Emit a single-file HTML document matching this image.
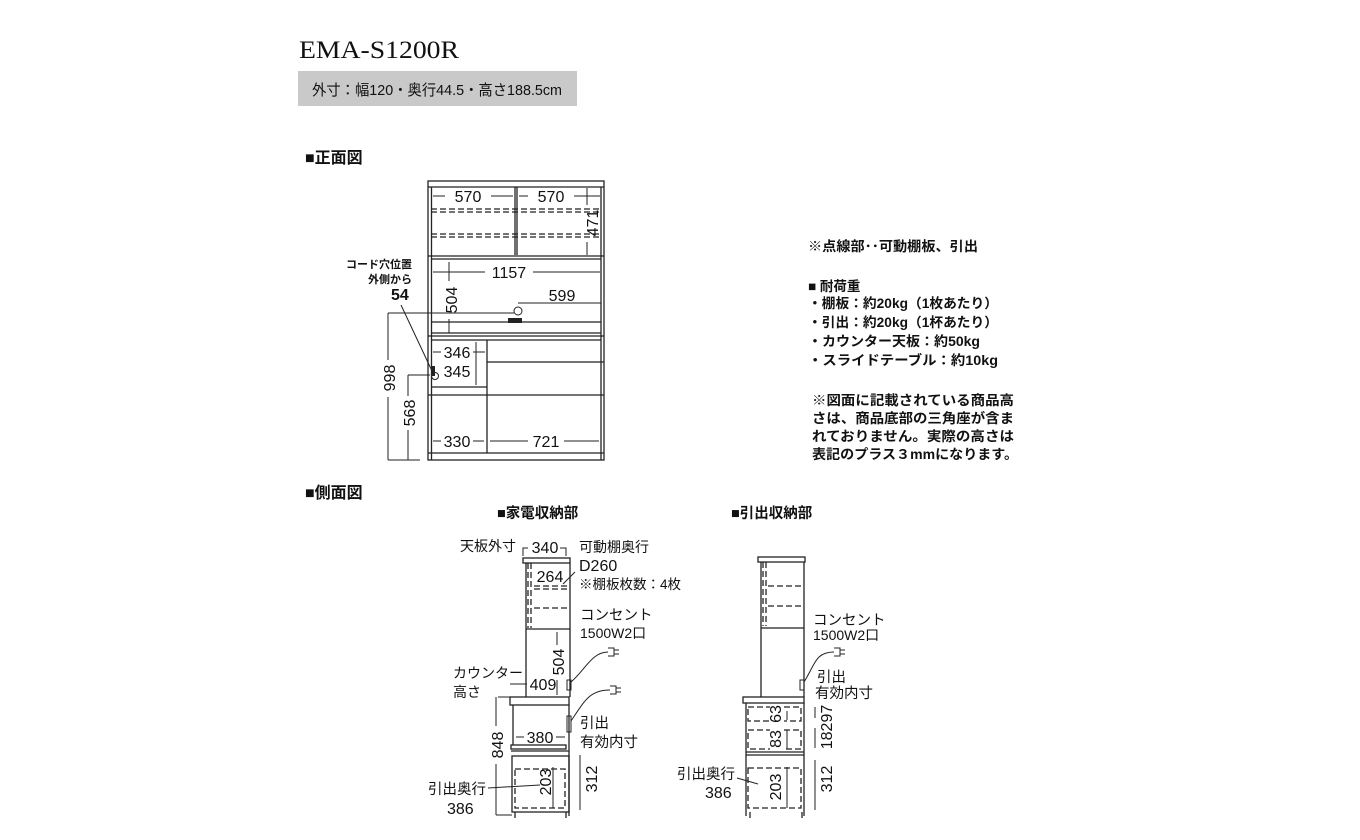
<!DOCTYPE html><html><head><meta charset="utf-8"><style>
html,body{margin:0;padding:0;background:#fff;width:1360px;height:840px;overflow:hidden}
svg{display:block}
text{font-family:"Liberation Sans","Noto Sans CJK JP",sans-serif;fill:#111}
.n{font-size:16px;text-anchor:middle}
.s{stroke:#222;stroke-width:1.3;fill:none}
.d{stroke:#222;stroke-width:1.3;fill:none;stroke-dasharray:6 3}
.t{stroke:#222;stroke-width:1;fill:none}
</style></head><body>
<svg width="1360" height="840" viewBox="0 0 1360 840">
<text x="299" y="58" textLength="160" lengthAdjust="spacingAndGlyphs" style="font-family:'Liberation Serif',serif;font-size:25px">EMA-S1200R</text>
<rect x="298" y="71" width="279" height="35" fill="#c9c9c9"/>
<text x="312" y="95" font-size="15" textLength="250" lengthAdjust="spacingAndGlyphs">外寸：幅120・奥行44.5・高さ188.5cm</text>
<text x="305" y="163" font-size="16" font-weight="bold">■正面図</text>
<text x="305" y="498" font-size="16" font-weight="bold">■側面図</text>

<!-- front view -->
<g>
<rect class="s" x="428" y="181" width="176" height="279"/>
<line class="s" x1="431.5" y1="187" x2="431.5" y2="460"/><line class="s" x1="601" y1="187" x2="601" y2="460"/>
<line class="s" x1="428" y1="187" x2="604" y2="187"/>
<line class="s" x1="515" y1="187" x2="515" y2="255"/><line class="s" x1="517" y1="187" x2="517" y2="255"/>
<line class="d" x1="431" y1="209" x2="601" y2="209"/><line class="d" x1="431" y1="212" x2="601" y2="212"/>
<line class="d" x1="431" y1="234" x2="601" y2="234"/><line class="d" x1="431" y1="237" x2="601" y2="237"/>
<line class="s" x1="428" y1="256" x2="604" y2="256"/><line class="s" x1="431" y1="259" x2="601" y2="259"/>
<line class="s" x1="431" y1="322" x2="601" y2="322"/><line class="s" x1="431" y1="333" x2="601" y2="333"/>
<line class="s" x1="428" y1="336" x2="604" y2="336"/><line class="s" x1="431" y1="340" x2="601" y2="340"/>
<line class="s" x1="487" y1="340" x2="487" y2="453"/>
<line class="s" x1="431" y1="387" x2="487" y2="387"/><line class="s" x1="428" y1="395" x2="604" y2="395"/>
<line class="s" x1="487" y1="362" x2="604" y2="362"/>
<line class="s" x1="428" y1="453" x2="604" y2="453"/>
<line class="t" x1="433" y1="196" x2="445" y2="196"/><line class="t" x1="491" y1="196" x2="513" y2="196"/>
<text x="468" y="202" class="n">570</text>
<line class="t" x1="519" y1="196" x2="528" y2="196"/><line class="t" x1="574" y1="196" x2="600" y2="196"/>
<text x="551" y="202" class="n">570</text>
<line class="t" x1="587" y1="188" x2="587" y2="205"/><line class="t" x1="587" y1="242" x2="587" y2="255"/>
<text transform="translate(598,223) rotate(-90)" class="n">471</text>
<line class="t" x1="433" y1="272" x2="485" y2="272"/><line class="t" x1="533" y1="272" x2="600" y2="272"/>
<text x="509" y="278" class="n">1157</text>
<line class="t" x1="449" y1="262" x2="449" y2="281"/><line class="t" x1="449" y1="319" x2="449" y2="333"/>
<text transform="translate(457,300) rotate(-90)" class="n">504</text>
<text x="562" y="301" class="n">599</text>
<line class="t" x1="518" y1="303" x2="601" y2="303"/>
<circle class="t" cx="518" cy="311" r="4"/>
<rect x="508" y="318" width="14" height="5" fill="#222"/>
<line class="t" x1="388" y1="313" x2="514" y2="313"/>
<line class="t" x1="388" y1="313" x2="388" y2="360"/><line class="t" x1="388" y1="397" x2="388" y2="460"/>
<text transform="translate(395,378) rotate(-90)" class="n">998</text>
<line class="t" x1="408" y1="375" x2="430" y2="375"/>
<line class="t" x1="408" y1="375" x2="408" y2="396"/><line class="t" x1="408" y1="430" x2="408" y2="460"/>
<text transform="translate(415,413) rotate(-90)" class="n">568</text>
<line class="t" x1="388" y1="460" x2="420" y2="460"/>
<text x="346" y="268" font-size="11" font-weight="bold">コード穴位置</text>
<text x="368" y="283" font-size="11" font-weight="bold">外側から</text>
<text x="391" y="300" font-size="16" font-weight="bold">54</text>
<line class="t" x1="401" y1="305" x2="432" y2="371"/>
<rect x="431" y="366" width="4" height="10" fill="#222"/><circle class="t" cx="435" cy="376" r="3.5"/>
<line class="t" x1="433" y1="352" x2="441" y2="352"/><line class="t" x1="473" y1="352" x2="485" y2="352"/>
<text x="457" y="358" class="n">346</text>
<text x="457" y="377" class="n">345</text>
<line class="t" x1="476" y1="342" x2="476" y2="385"/>
<line class="t" x1="433" y1="441" x2="441" y2="441"/><line class="t" x1="473" y1="441" x2="484" y2="441"/>
<text x="457" y="447" class="n">330</text>
<line class="t" x1="490" y1="441" x2="528" y2="441"/><line class="t" x1="564" y1="441" x2="599" y2="441"/>
<text x="546" y="447" class="n">721</text>
</g>

<!-- notes -->
<g font-size="13.5" font-weight="bold">
<text x="808" y="251" textLength="170" lengthAdjust="spacingAndGlyphs">※点線部･･可動棚板、引出</text>
<text x="808" y="291">■ 耐荷重</text>
<text x="808" y="308" textLength="190" lengthAdjust="spacingAndGlyphs">・棚板：約20kg（1枚あたり）</text>
<text x="808" y="327" textLength="190" lengthAdjust="spacingAndGlyphs">・引出：約20kg（1杯あたり）</text>
<text x="808" y="346" textLength="172" lengthAdjust="spacingAndGlyphs">・カウンター天板：約50kg</text>
<text x="808" y="365" textLength="190" lengthAdjust="spacingAndGlyphs">・スライドテーブル：約10kg</text>
<text x="812" y="405" textLength="202" lengthAdjust="spacingAndGlyphs">※図面に記載されている商品高</text>
<text x="812" y="423" textLength="202" lengthAdjust="spacingAndGlyphs">さは、商品底部の三角座が含ま</text>
<text x="812" y="441" textLength="202" lengthAdjust="spacingAndGlyphs">れておりません。実際の高さは</text>
<text x="812" y="459" textLength="206" lengthAdjust="spacingAndGlyphs">表記のプラス３mmになります。</text>
</g>

<!-- side 1 -->
<g>
<text x="497" y="518" font-size="14.5" font-weight="bold">■家電収納部</text>
<text x="460" y="551" font-size="14">天板外寸</text>
<path class="t" d="M523 556 V548 H528 M560 548 H566 V556"/>
<text x="545" y="553" class="n">340</text>
<text x="579" y="552" font-size="14">可動棚奥行</text>
<text x="579" y="571" font-size="16">D260</text>
<text x="579" y="589" font-size="13.5">※棚板枚数：4枚</text>
<rect class="s" x="523" y="558" width="47" height="5"/>
<line class="s" x1="526" y1="563" x2="526" y2="697"/><line class="s" x1="570" y1="563" x2="570" y2="697"/>
<line class="d" x1="528" y1="563" x2="528" y2="628"/><line class="d" x1="531" y1="563" x2="531" y2="628"/>
<line class="s" x1="526" y1="629" x2="570" y2="629"/>
<line class="d" x1="534" y1="586" x2="569" y2="586"/><line class="d" x1="534" y1="589" x2="569" y2="589"/>
<line class="d" x1="534" y1="608" x2="569" y2="608"/>
<text x="550" y="582" class="n">264</text>
<line class="t" x1="563" y1="584" x2="575" y2="572"/>
<text x="580" y="620" font-size="14.5">コンセント</text>
<text x="580" y="638" font-size="14">1500W2口</text>
<line class="t" x1="557" y1="632" x2="557" y2="645"/><line class="t" x1="557" y1="680" x2="557" y2="695"/>
<text transform="translate(564,662) rotate(-90)" class="n">504</text>
<text x="453" y="678" font-size="14">カウンター</text>
<text x="453" y="697" font-size="14">高さ</text>
<line class="t" x1="510" y1="684" x2="527" y2="684"/>
<text x="543" y="690" class="n">409</text>
<rect class="t" x="567" y="680" width="4" height="10"/>
<path class="t" d="M571 682 C585 670,592 652,608 652"/><path class="t" d="M608 648 h6 v8 h-6 M614 650 h5 M614 654 h5"/>
<path class="t" d="M571 721 C585 700,590 690,610 690"/><path class="t" d="M610 686 h6 v8 h-6 M616 688 h5 M616 692 h5"/>
<rect class="s" x="510" y="697" width="59" height="8"/>
<line class="s" x1="513" y1="705" x2="513" y2="745"/><line class="s" x1="569" y1="705" x2="569" y2="816"/>
<rect class="t" x="567" y="716" width="4" height="16"/>
<text x="580" y="728" font-size="14.5">引出</text>
<text x="580" y="747" font-size="14.5">有効内寸</text>
<line class="t" x1="516" y1="737" x2="524" y2="737"/><line class="t" x1="556" y1="737" x2="565" y2="737"/>
<text x="540" y="743" class="n">380</text>
<rect class="s" x="511" y="745" width="55" height="4"/>
<line class="s" x1="511" y1="751" x2="569" y2="751"/>
<rect class="s" x="512" y="756" width="57" height="56"/>
<rect class="d" x="515" y="769" width="50" height="39"/>
<line class="t" x1="553" y1="767" x2="553" y2="808"/>
<text transform="translate(551,782) rotate(-90)" class="n">203</text>
<line class="t" x1="580" y1="755" x2="580" y2="810"/>
<text transform="translate(597,779) rotate(-90)" class="n">312</text>
<line class="t" x1="498" y1="697" x2="510" y2="697"/>
<line class="t" x1="496" y1="697" x2="496" y2="726"/><line class="t" x1="496" y1="764" x2="496" y2="815"/>
<text transform="translate(503,745) rotate(-90)" class="n">848</text>
<line class="t" x1="496" y1="815" x2="512" y2="815"/>
<text x="428" y="794" font-size="14.5">引出奥行</text>
<text x="447" y="814" font-size="16">386</text>
<line class="t" x1="488" y1="788" x2="540" y2="785"/>
<line class="s" x1="515" y1="812" x2="515" y2="818"/><line class="s" x1="566" y1="812" x2="566" y2="818"/>
</g>

<!-- side 2 -->
<g>
<text x="731" y="518" font-size="14.5" font-weight="bold">■引出収納部</text>
<rect class="s" x="758" y="557" width="47" height="5"/>
<line class="s" x1="761" y1="562" x2="761" y2="697"/><line class="s" x1="804" y1="562" x2="804" y2="697"/>
<line class="d" x1="763" y1="562" x2="763" y2="626"/><line class="d" x1="766" y1="562" x2="766" y2="626"/>
<line class="s" x1="761" y1="628" x2="804" y2="628"/>
<line class="d" x1="768" y1="586" x2="803" y2="586"/><line class="d" x1="768" y1="606" x2="803" y2="606"/>
<text x="813" y="625" font-size="14.5">コンセント</text>
<text x="813" y="640" font-size="14">1500W2口</text>
<rect class="t" x="800" y="680" width="4" height="10"/>
<path class="t" d="M804 682 C815 665,815 652,834 652"/><path class="t" d="M834 648 h6 v8 h-6 M840 650 h5 M840 654 h5"/>
<text x="817" y="682" font-size="14.5">引出</text>
<text x="815" y="698" font-size="14.5">有効内寸</text>
<rect class="s" x="743" y="697" width="61" height="6"/>
<line class="s" x1="746" y1="703" x2="746" y2="816"/><line class="s" x1="804" y1="703" x2="804" y2="816"/>
<line class="s" x1="746" y1="752" x2="804" y2="752"/><line class="s" x1="746" y1="755" x2="804" y2="755"/>
<rect class="d" x="748" y="707" width="53" height="14"/>
<rect class="d" x="748" y="730" width="53" height="19"/>
<rect class="d" x="748" y="768" width="53" height="40"/>
<rect x="770" y="704" width="14" height="20" fill="#fff"/>
<text transform="translate(781,714) rotate(-90)" class="n">63</text>
<rect x="770" y="728" width="14" height="22" fill="#fff"/>
<text transform="translate(781,739) rotate(-90)" class="n">83</text>
<rect x="770" y="772" width="14" height="30" fill="#fff"/>
<text transform="translate(781,787) rotate(-90)" class="n">203</text>
<line class="t" x1="787" y1="711" x2="787" y2="720"/><line class="t" x1="787" y1="730" x2="787" y2="749"/><line class="t" x1="787" y1="767" x2="787" y2="808"/>
<line class="t" x1="815" y1="707" x2="815" y2="718"/><line class="t" x1="815" y1="728" x2="815" y2="748"/>
<text transform="translate(832,727) rotate(-90)" class="n">18297</text>
<line class="t" x1="815" y1="760" x2="815" y2="810"/>
<text transform="translate(832,779) rotate(-90)" class="n">312</text>
<text x="677" y="779" font-size="14.5">引出奥行</text>
<text x="705" y="798" font-size="16">386</text>
<line class="t" x1="737" y1="778" x2="758" y2="784"/>
<line class="s" x1="750" y1="812" x2="750" y2="818"/><line class="s" x1="802" y1="812" x2="802" y2="818"/>
</g>
</svg>
</body></html>
